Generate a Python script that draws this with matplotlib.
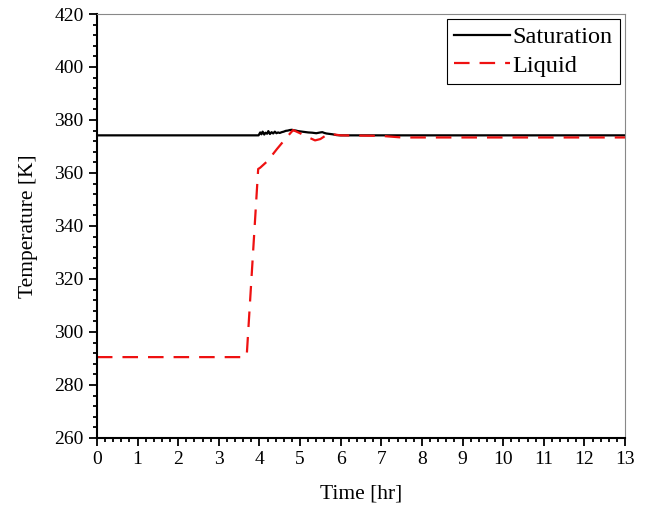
import numpy as np
import matplotlib
matplotlib.use("Agg")
import matplotlib.pyplot as plt
from matplotlib.ticker import MultipleLocator

plt.rcParams['font.family'] = ['Liberation Serif', 'DejaVu Serif']

# saturation temperature
sat_t = [0, 3.98, 4.02, 4.05, 4.08, 4.12, 4.15, 4.19, 4.22, 4.26, 4.30, 4.34,
         4.38, 4.42, 4.46, 4.50, 4.55, 4.60, 4.65, 4.70, 4.75, 4.80, 4.85, 4.90,
         4.95, 5.00, 5.10, 5.20, 5.30, 5.40, 5.50, 5.55, 5.60, 5.65, 5.70, 5.80,
         5.90, 6.00, 6.10, 13]
sat_T = [374.2, 374.2, 375.3, 374.6, 375.6, 374.5, 375.2, 374.8, 375.8, 374.7,
         375.4, 374.9, 375.6, 375.0, 375.3, 375.1, 375.4, 375.6, 375.9, 376.0,
         376.2, 376.3, 376.1, 376.0, 375.8, 375.7, 375.5, 375.3, 375.2, 375.0,
         375.3, 375.4, 375.1, 374.9, 374.8, 374.6, 374.3, 374.2, 374.2, 374.2]

# liquid temperature
liq_t = [0, 3.65, 3.69, 3.97, 4.02, 4.20, 4.43, 4.68, 4.83, 5.00, 5.20, 5.37,
         5.50, 5.70, 6.00, 7.00, 7.50, 13]
liq_T = [290.5, 290.5, 291.5, 361.5, 362.0, 364.5, 369.0, 373.6, 376.2, 375.0,
         373.5, 372.3, 372.8, 374.8, 374.2, 374.0, 373.4, 373.4]

fig = plt.figure(figsize=(6.46, 5.11), dpi=100)
ax = fig.add_axes([0.150, 0.143, 0.8175, 0.8296])

ax.plot(sat_t, sat_T, color='black', lw=1.6, label='Saturation')
ax.plot(liq_t, liq_T, color='#ee1111', lw=1.6, dashes=(7, 4.5), label='Liquid')

ax.set_xlim(0, 13)
ax.set_ylim(260, 420)
ax.xaxis.set_major_locator(MultipleLocator(1))
ax.xaxis.set_minor_locator(MultipleLocator(0.2))
ax.yaxis.set_major_locator(MultipleLocator(20))
ax.yaxis.set_minor_locator(MultipleLocator(4))
ax.tick_params(which='both', direction='out', width=1.3, labelsize=14)
ax.tick_params(which='major', length=6)
ax.tick_params(which='minor', length=3)

for s in ['left', 'bottom']:
    ax.spines[s].set_linewidth(1.5)
for s in ['top', 'right']:
    ax.spines[s].set_color('#888888')
    ax.spines[s].set_linewidth(0.8)

ax.set_xlabel('Time [hr]', fontsize=15.5, labelpad=12)
ax.set_ylabel('Temperature [K]', fontsize=15.5, labelpad=12)

leg = ax.legend(loc='upper right', fontsize=17.5, fancybox=False, framealpha=1,
                edgecolor='black', handlelength=2.3, borderpad=0.3,
                labelspacing=0.28, handletextpad=0.12, borderaxespad=0.2)
leg.get_frame().set_linewidth(0.8)

fig.savefig('out.png', dpi=100)
